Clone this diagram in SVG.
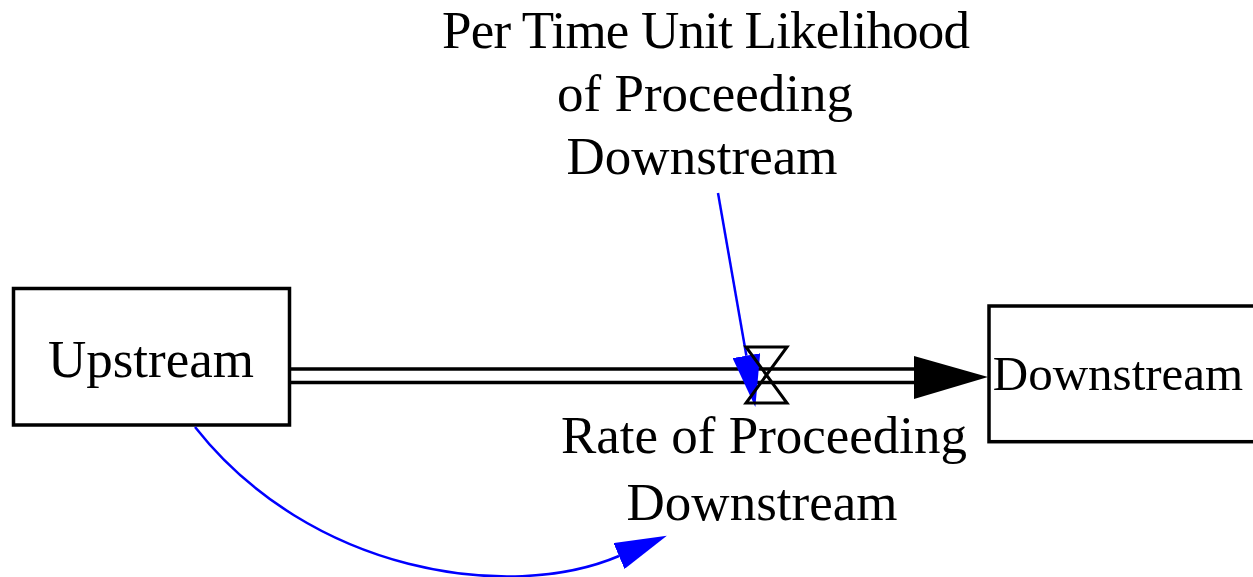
<svg xmlns="http://www.w3.org/2000/svg" width="1253" height="577" viewBox="0 0 1253 577">
<style>
.stock{fill:#fff;stroke:#000;stroke-width:3.5}
.lbl{font-family:"Liberation Serif","Times New Roman",serif;font-size:53px;fill:#000;text-anchor:middle}
.pipe{stroke:#000;stroke-width:3.5;fill:none}
.valve{stroke:#000;stroke-width:3;fill:none;stroke-linejoin:miter}
.link{stroke:#0000ff;stroke-width:2.5;fill:none}
</style>
<defs>
<marker id="blueHead" markerUnits="userSpaceOnUse" markerWidth="52" markerHeight="28" viewBox="0 0 52 28" refX="0" refY="14" orient="auto">
<path d="M0,0 L52,14 L0,28 Z" fill="#0000ff"/>
</marker>
</defs>
<rect width="1253" height="577" fill="#fff"/>
<g id="upstream">
<rect class="stock" x="13.5" y="288.5" width="276" height="136.5"/>
<text class="lbl" x="151" y="377">Upstream</text>
</g>
<g id="downstream">
<rect class="stock" x="989" y="306" width="276" height="135.7"/>
<text class="lbl" x="1118" y="390" style="font-size:49px">Downstream</text>
</g>
<g id="connectors">
<line class="pipe" x1="291" y1="369" x2="916" y2="369"/>
<line class="pipe" x1="291" y1="382.5" x2="916" y2="382.5"/>
<polygon points="914,356 988,377 914,399" fill="#000"/>
<line class="link" x1="718" y1="193" x2="746.4" y2="355.7" marker-end="url(#blueHead)"/>
<path class="link" d="M195,427 C309.4,572.6 508.5,603 619,556" marker-end="url(#blueHead)"/>
</g>
<g id="rate">
<path class="valve" d="M746,347 L787,347 L746,403 L787,403 Z"/>
<text class="lbl" x="764" y="453">Rate of Proceeding</text>
<text class="lbl" x="762" y="520">Downstream</text>
</g>
<g id="likelihood">
<text class="lbl" x="706" y="48" textLength="528" lengthAdjust="spacing">Per Time Unit Likelihood</text>
<text class="lbl" x="705" y="111">of Proceeding</text>
<text class="lbl" x="702" y="174">Downstream</text>
</g>
</svg>
